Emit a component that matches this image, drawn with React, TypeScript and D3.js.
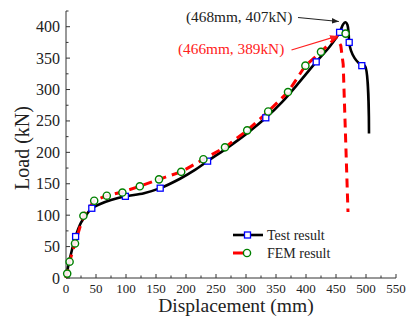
import React from "react";
import * as d3 from "d3";

// ---- data ----
const xTicks = [0, 50, 100, 150, 200, 250, 300, 350, 400, 450, 500, 550];
const yTicks = [0, 50, 100, 150, 200, 250, 300, 350, 400];

// Test result (black solid) line
const testX = [0, 5, 10, 16, 25, 35, 43, 55, 75, 99, 130, 157, 190, 215, 236, 270, 300, 333, 360, 390, 417, 440, 456, 462, 466, 469, 471, 472, 475, 481, 488, 493, 498, 505];
const testY = [0, 25, 45, 66, 88, 102, 111, 117, 124, 130, 135, 143, 158, 172, 186, 208, 229, 255, 280, 313, 344, 369, 391, 404, 407, 403, 390, 375, 362, 350, 342, 338, 338, 230];
// Test result markers
const testMarkX = [16, 43, 99, 157, 236, 333, 417, 456, 472, 493];
const testMarkY = [66, 111, 130, 143, 186, 255, 344, 391, 375, 338];

// FEM result (red dashed) line
const femX = [0, 2, 6, 15, 29, 47, 68, 94, 123, 155, 192, 229, 265, 302, 337, 370, 399, 425, 450, 458, 462, 470];
const femY = [0, 8, 26, 55, 99, 123, 131, 137, 146, 157, 169, 189, 208, 235, 265, 296, 338, 360, 383, 370, 340, 105];
// FEM markers
const femMarkX = [2, 6, 15, 29, 47, 68, 94, 123, 155, 192, 229, 265, 302, 337, 370, 399, 425, 466];
const femMarkY = [7, 26, 55, 99, 123, 131, 136, 146, 157, 169, 189, 208, 235, 265, 296, 338, 360, 389];

const annotations = [
  { label: "(468mm, 407kN)", x: 468, y: 407, color: "#222", tx: 186, ty: 21.5 },
  { label: "(466mm, 389kN)", x: 466, y: 389, color: "#ff2020", tx: 178, ty: 53.5 },
];

const legendItems = [
  { label: "Test result", color: "#000", kind: "square" },
  { label: "FEM result", color: "#ff0000", kind: "circle" },
];

const FONT = "Liberation Serif, Times New Roman, DejaVu Serif, serif";
const tStyle = { fontFamily: FONT };

export default function App() {
  const W = 415, H = 322;
  const x = d3.scaleLinear().domain([0, 550]).range([66, 396]);
  const y = d3.scaleLinear().domain([0, 425]).range([278, 11]);

  const testPts: [number, number][] = testX.map((v, i) => [x(v), y(testY[i])]);
  const femPts: [number, number][] = femX.map((v, i) => [x(v), y(femY[i])]);
  const blackLine = d3.line().curve(d3.curveCatmullRom.alpha(0.5))(testPts) || "";
  const redLine = d3.line().curve(d3.curveLinear)(femPts) || "";

  const xMinor = d3.range(0, 551, 25);
  const yMinor = d3.range(0, 426, 25);

  return (
    <svg width={W} height={H} style={{ position: "absolute", left: 0, top: 0, background: "#fff", fontFamily: FONT }}>
      <defs>
        <marker id="ahB" viewBox="0 0 10 10" refX="10" refY="5" markerWidth="7" markerHeight="7" orient="auto" markerUnits="userSpaceOnUse">
          <path d="M0,1 L10,5 L0,9 z" fill="#222" />
        </marker>
        <marker id="ahR" viewBox="0 0 10 10" refX="10" refY="5" markerWidth="8" markerHeight="8" orient="auto" markerUnits="userSpaceOnUse">
          <path d="M0,1 L10,5 L0,9 z" fill="#ff2020" />
        </marker>
      </defs>

      {/* axes */}
      <line x1={x(0)} x2={x(550)} y1={y(0)} y2={y(0)} stroke="#333" strokeWidth={1} />
      <line x1={x(0)} x2={x(0)} y1={y(0)} y2={y(425)} stroke="#333" strokeWidth={1} />
      {xMinor.map((v) => (
        <line key={"xm" + v} x1={x(v)} x2={x(v)} y1={y(0)} y2={y(0) - (v % 50 === 0 ? 4 : 2.5)} stroke="#333" strokeWidth={1} />
      ))}
      {yMinor.map((v) => (
        <line key={"ym" + v} x1={x(0)} x2={x(0) + (v % 50 === 0 ? 4 : 2.5)} y1={y(v)} y2={y(v)} stroke="#333" strokeWidth={1} />
      ))}
      {xTicks.map((v) => (
        <text key={"xt" + v} style={tStyle} x={x(v)} y={292.5} textAnchor="middle" fontSize={13} fill="#222">{v}</text>
      ))}
      {yTicks.map((v) => (
        <text key={"yt" + v} style={tStyle} x={60} y={y(v) + 5.5} textAnchor="end" fontSize={16} fill="#222">{v}</text>
      ))}
      <text style={tStyle} x={236} y={312} textAnchor="middle" fontSize={19.5} fill="#222">Displacement (mm)</text>
      <text style={tStyle} transform={`translate(${29},${148}) rotate(-90)`} textAnchor="middle" fontSize={20} fill="#222">Load (kN)</text>

      {/* lines */}
      <path d={blackLine} fill="none" stroke="#000" strokeWidth={2.6} strokeLinejoin="round" />
      <path d={redLine} fill="none" stroke="#ff0000" strokeWidth={3} strokeDasharray="9,6" />

      {/* markers */}
      {testMarkX.map((v, i) => (
        <rect key={"tm" + i} x={x(v) - 3} y={y(testMarkY[i]) - 3} width={6} height={6} fill="#fff" stroke="#0000ff" strokeWidth={1.3} />
      ))}
      {femMarkX.map((v, i) => (
        <circle key={"fm" + i} cx={x(v)} cy={y(femMarkY[i])} r={3.6} fill="#fff" fillOpacity={0.9} stroke="#008000" strokeWidth={1.4} />
      ))}

      {/* annotations */}
      {annotations.map((a, i) => {
        const px = x(a.x), py = y(a.y);
        const startX = a.tx + (i === 0 ? 112 : 113.5);
        const startY = a.ty - (i === 0 ? 4 : 3.5);
        const dx = px - startX, dy = py - startY;
        const len = Math.sqrt(dx * dx + dy * dy);
        const k = (len - 8) / len;
        return (
          <g key={"an" + i}>
            <text style={tStyle} x={a.tx} y={a.ty} fontSize={15.3} fill={a.color}>{a.label}</text>
            <line x1={startX} y1={startY} x2={startX + dx * k} y2={startY + dy * k} stroke={a.color} strokeWidth={1.2} markerEnd={i === 0 ? "url(#ahB)" : "url(#ahR)"} />
          </g>
        );
      })}

      {/* legend */}
      {legendItems.map((l, i) => {
        const ly = 235 + i * 18;
        return (
          <g key={"lg" + i}>
            {l.kind === "square" ? (
              <>
                <line x1={233} x2={263} y1={ly} y2={ly} stroke={l.color} strokeWidth={2.6} />
                <rect x={244.5} y={ly - 3} width={6} height={6} fill="#fff" stroke="#0000ff" strokeWidth={1.3} />
              </>
            ) : (
              <>
                <line x1={233} x2={244} y1={ly} y2={ly} stroke={l.color} strokeWidth={3} />
                <circle cx={247} cy={ly} r={3.6} fill="#fff" stroke="#008000" strokeWidth={1.4} />
              </>
            )}
            <text style={tStyle} x={267} y={ly + 5} fontSize={14} fill="#222">{l.label}</text>
          </g>
        );
      })}
    </svg>
  );
}
